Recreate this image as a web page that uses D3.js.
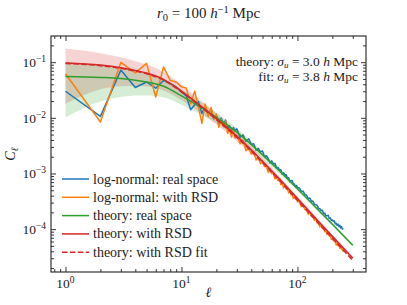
<!DOCTYPE html>
<html>
<head>
<meta charset="utf-8">
<script src="https://cdn.jsdelivr.net/npm/d3@7"></script>
<style>
  body { margin: 0; background: #fff; }
  svg text { font-family: "Liberation Serif", "DejaVu Serif", serif; fill: #222; }
</style>
</head>
<body>
<svg id="chart" width="407" height="305"></svg>
<script>
// theory curves, sampled at these multipoles
var ellTheory = [1, 2, 3, 4, 5, 7, 10, 15, 20, 30, 50, 70, 100, 150, 200, 300];
var clRsd   = [0.0970, 0.0887, 0.0794, 0.0708, 0.0637, 0.0490, 0.0302, 0.0158, 0.0097, 0.00468, 0.00166, 0.000794, 0.000355, 0.000141, 0.0000741, 0.0000302];
var clFit   = [0.0945, 0.0865, 0.0775, 0.0690, 0.0620, 0.0476, 0.0292, 0.0152, 0.0093, 0.00446, 0.00157, 0.000748, 0.000332, 0.000131, 0.0000685, 0.0000275];
var clReal  = [0.0553, 0.0532, 0.0508, 0.0474, 0.0440, 0.0368, 0.0248, 0.0150, 0.0102, 0.00552, 0.00216, 0.00111, 0.000533, 0.000226, 0.000122, 0.0000513];
var rsdHi   = [0.1762, 0.1448, 0.1219, 0.1041, 0.0908, 0.0669, 0.0395, 0.0198, 0.01184, 0.00553, 0.00189, 0.000888, 0.000390, 0.0001525, 0.0000793, 0.0000319];
var rsdLo   = [0.01785, 0.03264, 0.03692, 0.03745, 0.03656, 0.03112, 0.02087, 0.01179, 0.00756, 0.00383, 0.001426, 0.000700, 0.0003196, 0.0001295, 0.0000689, 0.0000285];
var realHi  = [0.1004, 0.0868, 0.0780, 0.0697, 0.0627, 0.0502, 0.0325, 0.0188, 0.01245, 0.00652, 0.00246, 0.001242, 0.000586, 0.0002444, 0.0001306, 0.0000543];
var realLo  = [0.01018, 0.01958, 0.02362, 0.02507, 0.02526, 0.02337, 0.01714, 0.01119, 0.00795, 0.00452, 0.001855, 0.000978, 0.000480, 0.0002076, 0.0001134, 0.0000483];

// log-normal simulation
var ellSim = [1,2,3,4,5,6,7,8,9,10,11,12,13,14,15,16,17,18,19,20,21,22,23,24,25,26,27,28,29,30,
  32,34,36,38,40,42,44,46,48,50,52,54,56,58,60,62,64,66,68,70,72,74,76,78,80,82,84,86,88,90,92,94,96,98,100,
  104,108,112,116,120,124,128,132,136,140,144,148,152,156,160,164,168,172,176,180,184,188,192,196,200,
  204,208,212,216,220,224,228,232,236,240,244,248];
var simReal = [0.030, 0.0106, 0.072, 0.035, 0.044, 0.034, 0.047, 0.041, 0.036, 0.029,
  0.0247, 0.0140, 0.0171, 0.0196, 0.0119, 0.0158, 0.0116, 0.0145, 0.00953, 0.0109,
  0.00789, 0.00991, 0.00771, 0.00910, 0.00649, 0.00718, 0.00551, 0.00671, 0.00581, 0.00634,
  0.00448, 0.00492, 0.00377, 0.00420, 0.00333, 0.00342, 0.00261, 0.00282, 0.00244, 0.00254,
  0.00200, 0.00208, 0.00185, 0.00154, 0.00169, 0.00148, 0.00152, 0.00125, 0.00129, 0.00116,
  0.00117, 0.000966, 0.00103, 0.000931, 0.000946, 0.000820, 0.000838, 0.000711, 0.000743, 0.000748,
  0.000647, 0.000649, 0.000579, 0.000610, 0.000558,
  0.000551, 0.000474, 0.000482, 0.000417, 0.000406, 0.000354, 0.000363, 0.000318, 0.000319, 0.000281,
  0.000276, 0.000267, 0.000236, 0.000233, 0.000216, 0.000219, 0.000190, 0.000194, 0.000172, 0.000175,
  0.000177, 0.000156, 0.000160, 0.000143, 0.000147, 0.000137, 0.000141, 0.000124, 0.000127, 0.000117,
  0.000123, 0.000111, 0.000117, 0.000105, 0.000111, 0.000100, 0.000104];
var simRsd = [0.062, 0.0084, 0.099, 0.064, 0.095, 0.0237, 0.082, 0.047, 0.044, 0.036,
  0.0342, 0.0179, 0.0301, 0.0157, 0.00793, 0.0178, 0.0106, 0.0153, 0.00944, 0.0117,
  0.00675, 0.00940, 0.00689, 0.00879, 0.00527, 0.00649, 0.00449, 0.00622, 0.00433, 0.00490,
  0.00341, 0.00398, 0.00256, 0.00290, 0.00222, 0.00248, 0.00175, 0.00192, 0.00150, 0.00170,
  0.00133, 0.00134, 0.00105, 0.00120, 0.000993, 0.00101, 0.000804, 0.000863, 0.000738, 0.000813,
  0.000634, 0.000653, 0.000548, 0.000608, 0.000524, 0.000531, 0.000448, 0.000499, 0.000412, 0.000420,
  0.000356, 0.000390, 0.000347, 0.000372, 0.000309,
  0.000310, 0.000254, 0.000268, 0.000225, 0.000219, 0.000185, 0.000198, 0.000168, 0.000169, 0.000144,
  0.000155, 0.000129, 0.000127, 0.000110, 0.000119, 0.000103, 0.000104, 0.0000904, 0.0000920, 0.0000798,
  0.0000873, 0.0000759, 0.0000776, 0.0000659, 0.0000692, 0.0000618, 0.0000679, 0.0000581, 0.0000520, 0.0000573,
  0.0000502, 0.0000518, 0.0000454, 0.0000502, 0.0000432, 0.0000446, 0.0000392];

var xTicks = [1, 10, 100];
var xTickExp = ['0', '1', '2'];
var yTicks = [1e-1, 1e-2, 1e-3, 1e-4];
var yTickExp = ['\u22121', '\u22122', '\u22123', '\u22124'];

var legendLabels = ['log-normal: real space', 'log-normal: with RSD', 'theory: real space', 'theory: with RSD', 'theory: with RSD fit'];
var colors = ['#1f77b4', '#ff7f0e', '#2ca02c', '#d62728', '#d62728'];

var L = 51, R = 366, T = 36, B = 272;
var svg = d3.select('#chart');
var x = d3.scaleLog().domain([0.75, 390]).range([L, R]);
var y = d3.scaleLog().domain([1.698e-5, 0.2951]).range([B, T]);

svg.append('clipPath').attr('id', 'clip').append('rect')
  .attr('x', L).attr('y', T).attr('width', R - L).attr('height', B - T);
var plot = svg.append('g').attr('clip-path', 'url(#clip)');

function band(lo, hi){
  return d3.area().curve(d3.curveMonotoneX)
    .x(function(d, i){ return x(ellTheory[i]); })
    .y0(function(d, i){ return y(lo[i]); })
    .y1(function(d, i){ return y(hi[i]); })(ellTheory);
}
plot.append('path').attr('d', band(rsdLo, rsdHi)).attr('fill', 'rgba(214,39,40,0.2)');
plot.append('path').attr('d', band(realLo, realHi)).attr('fill', 'rgba(44,160,44,0.2)');

var simLine = d3.line().x(function(d, i){ return x(ellSim[i]); }).y(function(d){ return y(d); });
var thLine = d3.line().curve(d3.curveMonotoneX).x(function(d, i){ return x(ellTheory[i]); }).y(function(d){ return y(d); });

plot.append('path').attr('d', simLine(simReal)).attr('fill', 'none').attr('stroke', colors[0]).attr('stroke-width', 1.5).attr('stroke-linejoin', 'round');
plot.append('path').attr('d', simLine(simRsd)).attr('fill', 'none').attr('stroke', colors[1]).attr('stroke-width', 1.5).attr('stroke-linejoin', 'round');
plot.append('path').attr('d', thLine(clReal)).attr('fill', 'none').attr('stroke', colors[2]).attr('stroke-width', 1.5);
plot.append('path').attr('d', thLine(clRsd)).attr('fill', 'none').attr('stroke', colors[3]).attr('stroke-width', 1.5);
plot.append('path').attr('d', thLine(clFit)).attr('fill', 'none').attr('stroke', colors[4]).attr('stroke-width', 1.5).attr('stroke-dasharray', '5.5,2.4');

// ticks, pointing inwards on all four sides
function minors(lo, hi){
  var out = [];
  for(var e = lo; e <= hi; e++){
    for(var m = 2; m <= 9; m++){ out.push(m * Math.pow(10, e)); }
  }
  return out;
}
var xMinor = minors(-1, 2).filter(function(v){ return v > 0.75 && v < 390; });
var yMinor = minors(-5, -1).filter(function(v){ return v > 1.698e-5 && v < 0.2951; });

function addAxis(axis, tx, ty){
  var g = svg.append('g').attr('transform', 'translate(' + tx + ',' + ty + ')').call(axis);
  g.select('.domain').remove();
  g.selectAll('text').remove();
  g.selectAll('line').attr('stroke', '#222').attr('stroke-width', 0.9);
}
addAxis(d3.axisBottom(x).tickValues(xTicks).tickSize(-5), 0, B);
addAxis(d3.axisBottom(x).tickValues(xMinor).tickSize(-3), 0, B);
addAxis(d3.axisTop(x).tickValues(xTicks).tickSize(-5), 0, T);
addAxis(d3.axisTop(x).tickValues(xMinor).tickSize(-3), 0, T);
addAxis(d3.axisLeft(y).tickValues(yTicks).tickSize(-5), L, 0);
addAxis(d3.axisLeft(y).tickValues(yMinor).tickSize(-3), L, 0);
addAxis(d3.axisRight(y).tickValues(yTicks).tickSize(-5), R, 0);
addAxis(d3.axisRight(y).tickValues(yMinor).tickSize(-3), R, 0);

svg.append('rect').attr('x', L).attr('y', T).attr('width', R - L).attr('height', B - T)
  .attr('fill', 'none').attr('stroke', '#222').attr('stroke-width', 1.1);

// tick labels with exponents
xTicks.forEach(function(v, i){
  var t = svg.append('text').attr('x', x(v)).attr('y', B + 16).attr('text-anchor', 'middle').attr('font-size', 13.5);
  t.append('tspan').text('10');
  t.append('tspan').attr('dy', -5).attr('font-size', 9.5).text(xTickExp[i]);
});
yTicks.forEach(function(v, i){
  var t = svg.append('text').attr('x', L - 5).attr('y', y(v) + 5).attr('text-anchor', 'end').attr('font-size', 13.5);
  t.append('tspan').text('10');
  t.append('tspan').attr('dy', -5).attr('font-size', 9.5).text(yTickExp[i]);
});

// title
var title = svg.append('text').attr('x', (L + R) / 2).attr('y', 18).attr('text-anchor', 'middle').attr('font-size', 15);
title.append('tspan').attr('font-style', 'italic').text('r');
title.append('tspan').attr('dy', 3).attr('font-size', 10.5).text('0');
title.append('tspan').attr('dy', -3).text(' = 100 ');
title.append('tspan').attr('font-style', 'italic').text('h');
title.append('tspan').attr('dy', -5).attr('font-size', 10.5).text('\u22121');
title.append('tspan').attr('dy', 5).text(' Mpc');

// axis labels
svg.append('text').attr('x', (L + R) / 2).attr('y', 297).attr('text-anchor', 'middle')
  .attr('font-size', 14).attr('font-style', 'italic').text('\u2113');
var yl = svg.append('text').attr('transform', 'translate(15,' + ((T + B) / 2) + ') rotate(-90)')
  .attr('text-anchor', 'middle').attr('font-size', 14);
yl.append('tspan').attr('font-style', 'italic').text('C');
yl.append('tspan').attr('dy', 3).attr('font-size', 10).attr('font-style', 'italic').text('\u2113');

// sigma_u annotations
function sigmaNote(yPos, prefix, val){
  var t = svg.append('text').attr('x', 358).attr('y', yPos).attr('text-anchor', 'end').attr('font-size', 13.5);
  t.append('tspan').text(prefix);
  t.append('tspan').attr('font-style', 'italic').text('\u03c3');
  t.append('tspan').attr('dy', 2).attr('font-size', 9).attr('font-style', 'italic').text('u');
  t.append('tspan').attr('dy', -2).text(' = ' + val + ' ');
  t.append('tspan').attr('font-style', 'italic').text('h');
  t.append('tspan').text(' Mpc');
}
sigmaNote(66, 'theory: ', '3.0');
sigmaNote(81, 'fit: ', '3.8');

// legend
legendLabels.forEach(function(lab, i){
  var yy = 179 + i * 18.3;
  svg.append('line').attr('x1', 62).attr('x2', 89).attr('y1', yy).attr('y2', yy)
    .attr('stroke', colors[i]).attr('stroke-width', 1.5)
    .attr('stroke-dasharray', i === 4 ? '5.5,2.4' : null);
  svg.append('text').attr('x', 93).attr('y', yy + 4.5).attr('font-size', 14).text(lab);
});
</script>
</body>
</html>
